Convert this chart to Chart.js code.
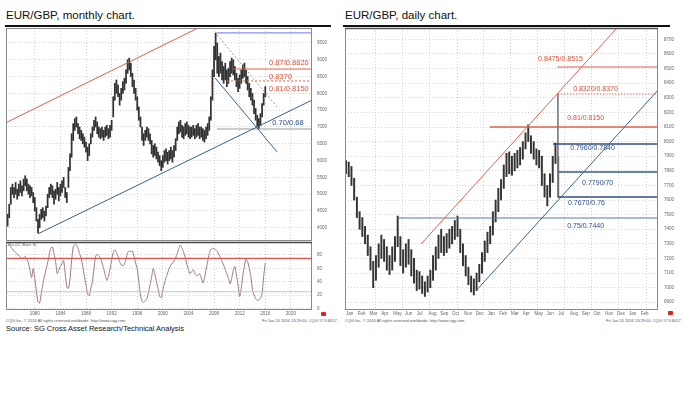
<!DOCTYPE html>
<html><head><meta charset="utf-8">
<script src="https://cdn.jsdelivr.net/npm/chart.js@4.4.0/dist/chart.umd.min.js"></script>
<style>
html,body{margin:0;padding:0;background:#fff;width:684px;height:393px;overflow:hidden;font-family:"Liberation Sans",Arial,sans-serif;}
.abs{position:absolute;white-space:nowrap;}
.title{font-size:11.5px;color:#111;top:9px;}
.rule{height:1.5px;background:#111;top:25px;}
.tiny{font-size:4px;color:#555;}
canvas{position:absolute;left:0;top:0;}
.mark{width:5px;height:4px;background:#e02020;border-radius:1px;}
</style></head><body>
<div class="abs title" style="left:6px">EUR/GBP, monthly chart.</div>
<div class="abs rule" style="left:5px;width:326px"></div>
<div class="abs title" style="left:345px">EUR/GBP, daily chart.</div>
<div class="abs rule" style="left:343px;width:327px"></div>
<div class="abs tiny" style="left:8px;top:242px">Rsi (Cl, Bars: 8)</div>
<div class="abs tiny" style="left:6px;top:318px">CQG Inc. © 2016 All rights reserved worldwide. http://www.cqg.com</div>
<div class="abs tiny" style="left:262px;top:318px">Fri Jun 24 2016 13:29:00, CQG 17.9.8017</div>
<div class="abs tiny" style="left:345px;top:318px">CQG Inc. © 2016 All rights reserved worldwide. http://www.cqg.com</div>
<div class="abs tiny" style="left:606px;top:318px">Fri Jun 24 2016 13:29:00, CQG 17.9.8017</div>
<div class="abs mark" style="left:321px;top:312px"></div>
<div class="abs mark" style="left:668px;top:311px"></div>
<div class="abs" style="left:6px;top:324px;font-size:7.5px;color:#111;">Source: SG Cross Asset Research/Technical Analysis</div>
<canvas id="cm" width="684" height="393"></canvas>
<canvas id="cr" width="684" height="393"></canvas>
<canvas id="cd" width="684" height="393"></canvas>
<script>
// ---------- Monthly chart data (quarterly samples) ----------
const monthlyFirstQuarter = 1975.75;
const monthlyLow = [.405,.430,.470,.500,.490,.500,.485,.495,.505,.495,
.510,.525,.510,.500,.490,.495,.475,.450,.420,.385,
.400,.425,.430,.420,.435,.460,.490,.500,.490,.470,
.485,.500,.480,.495,.505,.520,.490,.475,.520,.570,
.610,.660,.690,.700,.680,.665,.660,.650,.640,.625,
.600,.615,.650,.670,.690,.700,.680,.670,.665,.670,
.660,.670,.675,.665,.670,.690,.730,.780,.800,.790,
.765,.780,.800,.810,.830,.860,.870,.850,.820,.800,
.780,.750,.720,.700,.660,.645,.660,.670,.660,.650,
.620,.610,.615,.605,.595,.585,.570,.580,.595,.600,
.590,.600,.605,.595,.610,.630,.660,.680,.685,.670,
.665,.675,.680,.670,.665,.670,.675,.665,.670,.675,
.665,.670,.660,.655,.665,.675,.690,.720,.780,.850,
.900,.860,.850,.860,.840,.830,.840,.820,.830,.850,
.860,.855,.840,.820,.805,.815,.830,.845,.850,.830,
.810,.790,.780,.765,.740,.720,.700,.695,.705,.730,
.765,.790];
const monthlyHigh = [.440,.470,.520,.530,.520,.535,.515,.530,.540,.525,
.545,.555,.545,.530,.525,.520,.505,.490,.460,.425,
.440,.455,.460,.450,.465,.500,.520,.530,.525,.510,
.515,.535,.520,.530,.540,.550,.520,.505,.580,.620,
.680,.710,.725,.730,.710,.700,.690,.680,.670,.655,
.640,.650,.680,.700,.720,.730,.715,.700,.695,.700,
.690,.700,.705,.695,.705,.720,.790,.830,.840,.825,
.800,.815,.835,.845,.870,.900,.905,.890,.860,.840,
.815,.790,.760,.730,.700,.680,.690,.700,.695,.680,
.660,.645,.650,.640,.625,.615,.600,.615,.630,.635,
.625,.630,.640,.630,.645,.665,.700,.715,.720,.705,
.700,.710,.715,.705,.700,.700,.705,.695,.705,.710,
.700,.700,.695,.690,.700,.710,.730,.790,.870,.940,
.980,.950,.910,.920,.895,.880,.890,.870,.875,.895,
.905,.900,.880,.860,.845,.855,.870,.885,.890,.870,
.850,.830,.815,.800,.780,.755,.735,.725,.740,.770,
.800,.820];
const monthlyRsi = [93,95,92,89,86,84,81,79,77,74,
76,78,73,68,57,46,60,45,25,10,
8,22,36,48,58,68,80,90,92,82,
70,52,58,63,67,72,52,32,30,44,
72,92,96,95,90,82,75,62,48,35,
22,19,30,40,60,78,81,79,76,68,
60,50,42,48,59,72,84,88,84,78,
70,65,64,66,74,84,86,85,86,78,
68,59,40,20,11,9,12,14,24,35,
47,60,52,40,30,18,16,27,38,46,
53,60,65,68,71,76,82,90,95,90,
84,76,66,58,52,55,58,53,49,50,
52,46,38,45,58,70,82,88,90,89,
88,86,80,76,70,65,58,52,45,37,
45,57,63,50,35,18,30,50,64,74,
70,60,48,28,20,15,12,13,15,22,
48,68];
const monthlyYearTicks = [1980,1984,1988,1992,1996,2000,2004,2008,2012,2016,2020];
const monthlyPriceTicks = [0.40,0.45,0.50,0.55,0.60,0.65,0.70,0.75,0.80,0.85,0.90,0.95];
const rsiTicks = [0,20,40,60,80];
const rsiLevels = [75,25];
// annotation lines, [year, price] end points
const monthlyRedTrend = [[1975.5,0.713],[2006.5,1.004]];
const monthlyBlueTrend = [[1980.5,0.382],[2023.3,0.780]];
const monthlyBlueFall = [[2008.16,0.846],[2017.84,0.626]];
const monthlyDottedFall = [[2008.47,0.974],[2017.84,0.760]];
const monthlyHighLine = [[2008.47,0.980],[2023.3,0.980]];
const monthlyRedLevels = [[2010.97,0.8726],[2010.03,0.837]];
const monthlyGrayLevel = [[2008.47,0.694],[2023.3,0.694]];
const monthlyLabels = ['0.87/0.8820','0.8370','0.81/0.8150','0.70/0.68'];
const monthlyLabelAt = [[2016.6,0.8905],[2016.6,0.8488],[2016.6,0.8146],[2017.1,0.7119]];

// ---------- Daily chart data (weekly high/low, week 0 = first week of Jan 2015) ----------
const dailyLow = [.778,.776,.770,.760,.748,.740,.735,.730,.722,.712,
.700,.705,.714,.720,.718,.712,.709,.712,.718,.728,
.715,.710,.714,.716,.708,.703,.698,.699,.696,.694,
.697,.700,.705,.712,.720,.724,.722,.724,.727,.730,
.733,.735,.724,.715,.708,.702,.697,.695,.698,.704,
.710,.718,.724,.730,.736,.745,.752,.760,.768,.776,
.778,.777,.780,.782,.784,.788,.795,.800,.792,.788,
.784,.782,.770,.762,.756,.762,.772,.785,.762];
const dailyHigh = [.787,.786,.783,.775,.762,.752,.748,.742,.736,.728,
.718,.722,.730,.736,.733,.728,.722,.728,.735,.749,
.735,.726,.730,.733,.726,.720,.712,.711,.708,.704,
.708,.712,.722,.728,.736,.740,.735,.737,.740,.742,
.746,.749,.740,.730,.722,.714,.708,.706,.710,.716,
.724,.732,.738,.742,.752,.760,.768,.774,.784,.792,
.793,.790,.792,.794,.796,.800,.806,.8115,.804,.800,
.795,.794,.790,.778,.770,.778,.790,.799,.790];
const dailyMonthLabels = ['Jan','Feb','Mar','Apr','May','Jun','Jul','Aug','Sep','Oct','Nov','Dec',
'Jan','Feb','Mar','Apr','May','Jun','Jul','Aug','Sep','Oct','Nov','Dec','Jan','Feb'];
const dailyPriceTicks = [0.69,0.70,0.71,0.72,0.73,0.74,0.75,0.76,0.77,0.78,0.79,0.80,0.81,0.82,0.83,0.84,0.85,0.86,0.87];
const dailyGridWeeks = [11.4,22.4,33.5,44.5,55.5,66.5,77.6,88.6,99.6,110.7];
const dailyRedTrend = [[27.6,0.7299],[105,0.8889]];
const dailyBlueTrend = [[48.05,0.6984],[114.7,0.8353]];
const dailyRedLevels = [[77.6,0.8511],[77.9,0.8326],[52.9,0.810]];
const dailyBlueLevels = [[76.1,0.7984],[77.9,0.7792],[77.9,0.7621],[19.1,0.7477]];
const dailyVertical = [[77.9,0.8326],[77.9,0.7621]];
const dailyLabels = ['0.8475/0.8515','0.8320/0.8370','0.81/0.8150','0.7960/0.7840','0.7790/70','0.7670/0.76','0.75/0.7440'];
const dailyLabelAt = [[70.6,0.8566],[83.5,0.8360],[81.3,0.8162],[82.4,0.7956],[86.8,0.7716],[81.6,0.7579],[81.3,0.7422]];

// ---------- helpers ----------
const RED = '#e0604c', BLUE = '#3b5f96', RED_TXT = '#e0503a', BLUE_TXT = '#2c4f8c';
const FONT = "'Liberation Sans', Arial, sans-serif";
const pts = arr => arr.map(p => ({x: p[0], y: p[1]}));
function lineDs(points, color, width, dash){
  return {type:'line', data: pts(points), borderColor: color, borderWidth: width || 1,
    borderDash: dash || [], pointRadius: 0, fill: false, clip: 0, tension: 0, order: 0};
}
const framePlugin = {
  id:'frame',
  afterDraw(chart, args, opts){
    const a = chart.chartArea, ctx = chart.ctx;
    ctx.save(); ctx.strokeStyle = opts.color || '#777'; ctx.lineWidth = 1;
    ctx.strokeRect(a.left+0.5, a.top+0.5, a.right-a.left-1, a.bottom-a.top-1);
    if (opts.topColor){ ctx.strokeStyle = opts.topColor; ctx.lineWidth = 1.5;
      ctx.beginPath(); ctx.moveTo(a.left, a.top+0.5); ctx.lineTo(a.right, a.top+0.5); ctx.stroke(); }
    ctx.restore();
  }
};
const textPlugin = {
  id:'annText',
  afterDatasetsDraw(chart, args, opts){
    if (!opts.items) return;
    const ctx = chart.ctx, xs = chart.scales.x, ys = chart.scales.y;
    ctx.save(); ctx.font = opts.font; ctx.textBaseline = 'middle'; ctx.textAlign = 'left';
    opts.items.forEach(it => { ctx.fillStyle = it.color; ctx.fillText(it.text, xs.getPixelForValue(it.x), ys.getPixelForValue(it.y)); });
    ctx.restore();
  }
};
const gridStyle = {color:'#c8c8c8', lineWidth: 0.8, drawTicks:false};
const tickFont = {family: FONT, size: 4.5};

// ---------- Monthly price chart ----------
const mX = [1975.5, 2023.3];
const qx = monthlyLow.map((_, i) => monthlyFirstQuarter + i*0.25);
new Chart(document.getElementById('cm'), {
  type:'bar',
  data:{datasets:[
    {type:'bar', data: qx.map((x,i)=>({x, y:[monthlyLow[i], monthlyHigh[i]]})), backgroundColor:'#333',
      barThickness: 1.1, minBarLength: 1, order: 1},
    lineDs(monthlyRedTrend, RED, 1),
    lineDs(monthlyBlueTrend, BLUE, 1),
    lineDs(monthlyBlueFall, BLUE, 1),
    lineDs(monthlyDottedFall, '#9a9a9a', 1, [2,2]),
    lineDs(monthlyHighLine, '#8a8ef0', 1.2),
    lineDs([monthlyRedLevels[0], [mX[1], monthlyRedLevels[0][1]]], RED, 1),
    lineDs([monthlyRedLevels[1], [mX[1], monthlyRedLevels[1][1]]], RED, 1, [2,2]),
    lineDs(monthlyGrayLevel, '#999', 1.2)
  ]},
  options:{
    responsive:false, animation:false, devicePixelRatio:1,
    layout:{padding:{left:6, top:28, right:342, bottom:152}},
    plugins:{legend:{display:false}, tooltip:{enabled:false},
      frame:{color:'#888'},
      annText:{font:"7.5px "+FONT, items: monthlyLabels.map((t,i)=>({text:t, x:monthlyLabelAt[i][0], y:monthlyLabelAt[i][1], color: i<3?RED_TXT:BLUE_TXT}))}},
    scales:{
      x:{type:'linear', min:mX[0], max:mX[1], offset:false, grid:{...gridStyle, offset:false}, border:{display:false, dash:[1,2]},
        ticks:{display:false}, afterBuildTicks: s => { s.ticks = monthlyYearTicks.map(v=>({value:v})); },
        afterFit: s => { s.height = 0; }},
      y:{type:'linear', position:'right', min:0.3607, max:0.99464, grid:gridStyle, border:{display:false, dash:[1,2]},
        ticks:{font:tickFont, color:'#666', padding:5, callback: v => String(Math.round(v*10000))},
        afterBuildTicks: s => { s.ticks = monthlyPriceTicks.map(v=>({value:v})); },
        afterFit: s => { s.width = 30; }}
    }
  },
  plugins:[framePlugin, textPlugin]
});

// ---------- Monthly RSI ----------
new Chart(document.getElementById('cr'), {
  type:'line',
  data:{datasets:[
    lineDs([[mX[0], rsiLevels[0]],[mX[1], rsiLevels[0]]], '#e05050', 1.2),
    lineDs([[mX[0], rsiLevels[1]],[mX[1], rsiLevels[1]]], '#b8c8d8', 1),
    {type:'line', data: qx.map((x,i)=>({x, y: monthlyRsi[i]})), borderColor:'#a07878', borderWidth:1,
      pointRadius:0, fill:false, tension:0.2, clip:0}
  ]},
  options:{
    responsive:false, animation:false, devicePixelRatio:1,
    layout:{padding:{left:6, top:242, right:342, bottom:67}},
    plugins:{legend:{display:false}, tooltip:{enabled:false}, frame:{color:'#888', topColor:'#444'}},
    scales:{
      x:{type:'linear', min:mX[0], max:mX[1], grid:gridStyle, border:{display:false, dash:[1,2]},
        ticks:{font:tickFont, color:'#666', padding:1, maxRotation:0, callback: v => String(v)},
        afterBuildTicks: s => { s.ticks = monthlyYearTicks.map(v=>({value:v})); },
        afterFit: s => { s.height = 16; }},
      y:{type:'linear', position:'right', min:-2.2, max:99.4, grid:gridStyle, border:{display:false, dash:[1,2]},
        ticks:{font:tickFont, color:'#666', padding:5},
        afterBuildTicks: s => { s.ticks = rsiTicks.map(v=>({value:v})); },
        afterFit: s => { s.width = 30; }}
    }
  },
  plugins:[framePlugin]
});

// ---------- Daily chart ----------
const dX = [-0.37, 114.7];
const wx = dailyLow.map((_, i) => i);
const weeksPerMonth = 52/12;
new Chart(document.getElementById('cd'), {
  type:'bar',
  data:{datasets:[
    {type:'bar', data: wx.map((x,i)=>({x, y:[dailyLow[i], dailyHigh[i]]})), backgroundColor:'#333',
      barThickness: 1.3, minBarLength: 1, order: 1},
    lineDs(dailyRedTrend, RED, 1),
    lineDs(dailyBlueTrend, BLUE, 1),
    lineDs([dailyRedLevels[0], [dX[1], dailyRedLevels[0][1]]], RED, 1.2),
    lineDs([dailyRedLevels[1], [dX[1], dailyRedLevels[1][1]]], RED, 1.2, [1.5,1.5]),
    lineDs([dailyRedLevels[2], [dX[1], dailyRedLevels[2][1]]], RED, 1.3),
    lineDs([dailyBlueLevels[0], [dX[1], dailyBlueLevels[0][1]]], '#2f4f80', 1.5),
    lineDs([dailyBlueLevels[1], [dX[1], dailyBlueLevels[1][1]]], '#3a5a8a', 1.3),
    lineDs([dailyBlueLevels[2], [dX[1], dailyBlueLevels[2][1]]], '#2f4f80', 1.5),
    lineDs([dailyBlueLevels[3], [dX[1], dailyBlueLevels[3][1]]], '#5a7aa8', 1.2),
    lineDs(dailyVertical, '#7a8090', 1)
  ]},
  options:{
    responsive:false, animation:false, devicePixelRatio:1,
    layout:{padding:{left:345, top:28, right:0, bottom:67}},
    plugins:{legend:{display:false}, tooltip:{enabled:false}, frame:{color:'#888', topColor:'#555'},
      annText:{font:"7px "+FONT, items: dailyLabels.map((t,i)=>({text:t, x:dailyLabelAt[i][0], y:dailyLabelAt[i][1], color: i<3?RED_TXT:BLUE_TXT}))}},
    scales:{
      x:{type:'linear', min:dX[0], max:dX[1], offset:false, grid:{display:false, drawTicks:false}, border:{display:false},
        ticks:{font:tickFont, color:'#666', padding:1, maxRotation:0, align:'start', autoSkip:false,
          callback: (v, i) => dailyMonthLabels[i]},
        afterBuildTicks: s => { s.ticks = dailyMonthLabels.map((_, m)=>({value: m*weeksPerMonth})); },
        afterFit: s => { s.height = 16; }},
      xg:{type:'linear', position:'bottom', min:dX[0], max:dX[1], display:true, grid:gridStyle, border:{display:false, dash:[1,2]},
        ticks:{display:false}, afterBuildTicks: s => { s.ticks = dailyGridWeeks.map(v=>({value:v})); },
        afterFit: s => { s.height = 0; }},
      y:{type:'linear', position:'right', min:0.6847, max:0.8778, grid:gridStyle, border:{display:false, dash:[1,2]},
        ticks:{font:tickFont, color:'#666', padding:6, callback: v => String(Math.round(v*10000))},
        afterBuildTicks: s => { s.ticks = dailyPriceTicks.map(v=>({value:v})); },
        afterFit: s => { s.width = 26; }}
    }
  },
  plugins:[framePlugin, textPlugin]
});
</script>
</body></html>
